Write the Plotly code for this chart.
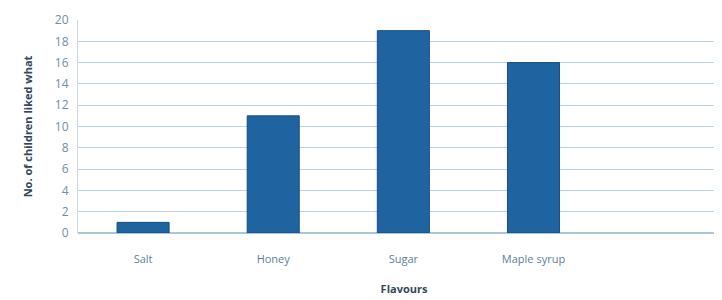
import plotly.graph_objects as go

categories = ["Salt", "Honey", "Sugar", "Maple syrup"]
values = [1, 11, 19, 16]
y_ticks = list(range(0, 21, 2))

fig = go.Figure(go.Bar(
    x=categories, y=values, width=0.4,
    marker=dict(color="#1f63a0", line=dict(color="#174f80", width=1)),
))

# page body has an 8px default margin, so figure is offset by 8px
fig.update_layout(
    width=722, height=292,
    margin=dict(l=70, r=0, t=12, b=67, autoexpand=False),
    paper_bgcolor="white", plot_bgcolor="white",
    showlegend=False,
    font=dict(family="Open Sans, Liberation Sans, sans-serif", size=11, color="#5c7f9c"),
    xaxis=dict(
        range=[-0.5, 4.51], showgrid=False, showline=False,
        ticks="", ticklabelstandoff=18, tickfont=dict(size=11, color="#5c7f9c"),
        title=dict(text="<b>Flavours</b>", font=dict(size=11, color="#33475b"), standoff=20),
    ),
    yaxis=dict(
        range=[0, 20], tickvals=y_ticks, showgrid=True, gridcolor="#b9d2e6", gridwidth=1,
        showline=True, linecolor="#c9dbe9", zeroline=True, zerolinecolor="#a9c6de",
        ticks="", ticklabelstandoff=6, tickfont=dict(size=12, color="#6f8ea8"),
        title=dict(text="<b>No. of children liked what</b>", font=dict(size=11, color="#33475b"), standoff=20),
    ),
)

fig.write_html("out.html")
